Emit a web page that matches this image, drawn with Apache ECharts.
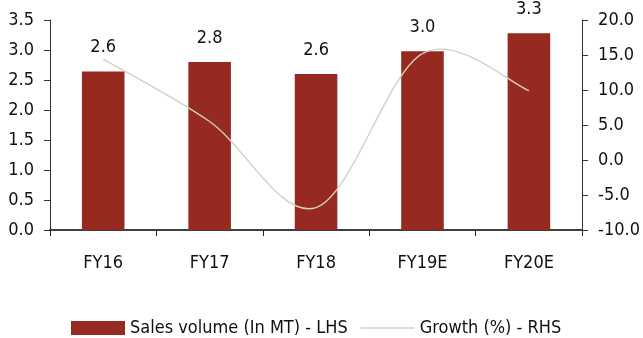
<!DOCTYPE html>
<html>
<head>
<meta charset="utf-8">
<script src="https://cdn.jsdelivr.net/npm/echarts@6/dist/echarts.min.js"></script>
<style>
html,body{margin:0;padding:0;background:#fff;}
#chart{width:643px;height:338px;}
</style>
</head>
<body>
<div id="chart"></div>
<script>
var categories = ['FY16', 'FY17', 'FY18', 'FY19E', 'FY20E'];
var salesVolume = [2.64, 2.8, 2.6, 2.98, 3.28];
var growth = [14.4, 5.5, -6.8, 15.2, 9.9];
var leftTicks = {min: 0, max: 3.5, interval: 0.5};
var rightTicks = {min: -10, max: 20, interval: 5};

var FONT = '"Liberation Sans Narrow", "DejaVu Sans Condensed", sans-serif';
var LINE_COLOR = '#d3d0bf';

function growthSegment(params, api) {
  var i = params.dataIndex;
  var n = growth.length;
  if (i >= n - 1) return null;
  function pt(k) {
    k = Math.max(0, Math.min(n - 1, k));
    return api.coord([k, growth[k]]);
  }
  var p0 = pt(i - 1), p1 = pt(i), p2 = pt(i + 1), p3 = pt(i + 2);
  return {
    type: 'bezierCurve',
    shape: {
      x1: p1[0], y1: p1[1],
      cpx1: p1[0] + (p2[0] - p0[0]) / 6, cpy1: p1[1] + (p2[1] - p0[1]) / 6,
      cpx2: p2[0] - (p3[0] - p1[0]) / 6, cpy2: p2[1] - (p3[1] - p1[1]) / 6,
      x2: p2[0], y2: p2[1]
    },
    style: {stroke: LINE_COLOR, fill: 'none', lineWidth: 1.4}
  };
}

var chart = echarts.init(document.getElementById('chart'), null, {renderer: 'canvas'});
chart.setOption({
  animation: false,
  textStyle: {fontFamily: FONT, color: '#111'},
  grid: {left: 50, right: 59, top: 20, bottom: 108, containLabel: false},
  legend: {
    left: 66, top: 314,
    itemWidth: 54, itemHeight: 14, itemGap: 13,
    textStyle: {fontFamily: FONT, fontSize: 18, color: '#111'},
    data: [
      {name: 'Sales volume (In MT) - LHS', icon: 'rect'},
      {name: 'Growth (%) - RHS', icon: 'path://M0,6 L54,6 L54,8 L0,8 Z', itemStyle: {color: '#e0ded1'}}
    ]
  },
  xAxis: {
    type: 'category', data: categories, boundaryGap: true,
    axisLine: {lineStyle: {color: '#000', width: 1.5}},
    axisTick: {show: true, length: 6, lineStyle: {color: '#222'}},
    axisLabel: {fontFamily: FONT, fontSize: 18, color: '#111', margin: 24}
  },
  yAxis: [
    {
      type: 'value', min: leftTicks.min, max: leftTicks.max, interval: leftTicks.interval,
      axisLine: {show: true, lineStyle: {color: '#333'}},
      axisTick: {show: true, length: 6, lineStyle: {color: '#333'}},
      splitLine: {show: false},
      axisLabel: {fontFamily: FONT, fontSize: 18, color: '#111', margin: 16,
        formatter: function (v) { return v.toFixed(1); }}
    },
    {
      type: 'value', min: rightTicks.min, max: rightTicks.max, interval: rightTicks.interval,
      position: 'right',
      axisLine: {show: true, lineStyle: {color: '#333'}},
      axisTick: {show: true, length: 6, lineStyle: {color: '#333'}},
      splitLine: {show: false},
      axisLabel: {fontFamily: FONT, fontSize: 18, color: '#111', margin: 16,
        formatter: function (v) { return v.toFixed(1); }}
    }
  ],
  series: [
    {
      name: 'Sales volume (In MT) - LHS', type: 'bar', yAxisIndex: 0,
      data: salesVolume, barWidth: '40%',
      itemStyle: {color: '#962a20'},
      label: {show: true, position: 'top', distance: 15, fontFamily: FONT, fontSize: 18, color: '#111',
        formatter: function (p) { return p.value.toFixed(1); }}
    },
    {
      name: 'Growth (%) - RHS', type: 'custom', yAxisIndex: 1,
      coordinateSystem: 'cartesian2d',
      data: growth.map(function (v, i) { return [i, v]; }),
      encode: {x: 0, y: 1},
      itemStyle: {color: LINE_COLOR},
      renderItem: growthSegment,
      z: 3
    }
  ]
});
</script>
</body>
</html>
